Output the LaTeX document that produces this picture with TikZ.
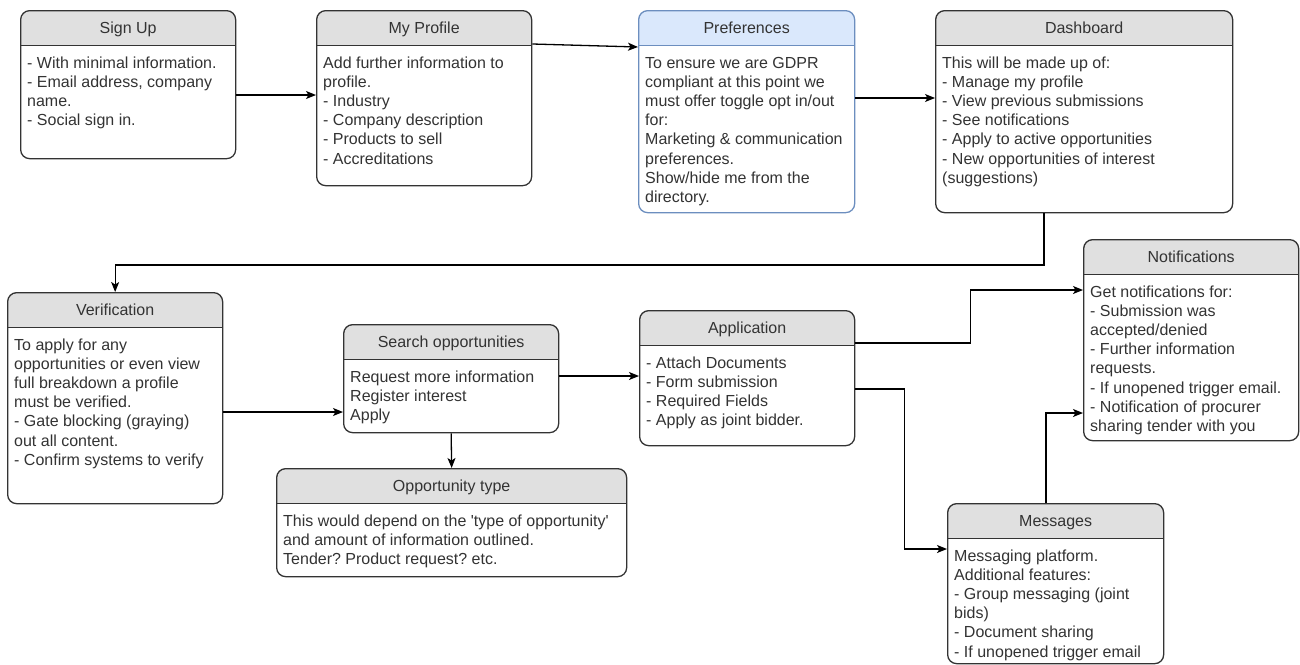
\documentclass[tikz,border=0pt]{standalone}
\usepackage{fontspec}
\setmainfont{Liberation Sans}
\usetikzlibrary{arrows.meta}
\definecolor{hdr}{HTML}{E0E0E0}
\definecolor{hdrblue}{HTML}{DAE8FC}
\definecolor{edgeblue}{HTML}{6C8EBF}
\definecolor{ink}{HTML}{333333}
\frenchspacing

\begin{document}
\begin{tikzpicture}[x=1pt, y=-1pt,
  font=\fontsize{16pt}{19.2pt}\selectfont,
  card/.style 2 args={draw=#2, fill=white, line width=1.3pt, rounded corners=9pt,
              anchor=north west, inner sep=0pt,
              path picture={\fill[#1, sharp corners] (path picture bounding box.north west)
                rectangle ([yshift=-35pt]path picture bounding box.north east);
                \draw[#2, line width=1.3pt, sharp corners]
                ([yshift=-35pt]path picture bounding box.north west)
                -- ([yshift=-35pt]path picture bounding box.north east);}},
  gcard/.style={card={hdr}{ink}},
  bcard/.style={card={hdrblue}{edgeblue}},
  wh/.style 2 args={minimum width=#1pt, minimum height=#2pt},
  head/.style={anchor=north, yshift=-9pt, text height=12pt, text depth=3.5pt,
              inner sep=2pt, text=ink},
  body/.style={anchor=north west, xshift=7pt, yshift=-44.5pt, align=left,
              inner sep=0pt, text=ink},
  a/.style={-{Stealth[length=10pt, width=8pt, inset=2.5pt]}, line width=1.3pt}]

  \useasboundingbox (0,0) rectangle (1300,664);

  \node[gcard, wh={215}{148}] (signup)  at (20,10)   {};
  \node[gcard, wh={215}{175}] (profile) at (316,10)  {};
  \node[bcard, wh={216}{202}] (prefs)   at (638,10)  {};
  \node[gcard, wh={297}{202}] (dash)    at (935,10)  {};
  \node[gcard, wh={215}{211}] (verif)   at (7,292)   {};
  \node[gcard, wh={215}{108}] (search)  at (343,324) {};
  \node[gcard, wh={350}{108}] (opptype) at (276,468) {};
  \node[gcard, wh={215}{135}] (appl)    at (639,310) {};
  \node[gcard, wh={215}{201}] (notif)   at (1083,239) {};
  \node[gcard, wh={216}{160}] (msgs)    at (947,503) {};

  \node[head] (signup-h)  at (signup.north)  {Sign Up};
  \node[head] (profile-h) at (profile.north) {My Profile};
  \node[head] (prefs-h)   at (prefs.north)   {Preferences};
  \node[head] (dash-h)    at (dash.north)    {Dashboard};
  \node[head] (verif-h)   at (verif.north)   {Verification};
  \node[head] (search-h)  at (search.north)  {Search opportunities};
  \node[head] (opptype-h) at (opptype.north) {Opportunity type};
  \node[head] (appl-h)    at (appl.north)    {Application};
  \node[head] (notif-h)   at (notif.north)   {Notifications};
  \node[head] (msgs-h)    at (msgs.north)    {Messages};

  \node[body] (signup-b) at (signup.north west)
    {\strut- With minimal information.\\- Email address, company\\name.\\- Social sign in.};
  \node[body] (profile-b) at (profile.north west)
    {\strut Add further information to\\profile.\\- Industry\\- Company description\\- Products to sell\\- Accreditations};
  \node[body] (prefs-b) at (prefs.north west)
    {\strut To ensure we are GDPR\\compliant at this point we\\must offer toggle opt in/out\\for:\\Marketing \& communication\\preferences.\\Show/hide me from the\\directory.};
  \node[body] (dash-b) at (dash.north west)
    {\strut This will be made up of:\\- Manage my profile\\- View previous submissions\\- See notifications\\- Apply to active opportunities\\- New opportunities of interest\\(suggestions)};
  \node[body] (verif-b) at (verif.north west)
    {\strut To apply for any\\opportunities or even view\\full breakdown a profile\\must be verified.\\- Gate blocking (graying)\\out all content.\\- Confirm systems to verify};
  \node[body] (search-b) at (search.north west)
    {\strut Request more information\\Register interest\\Apply};
  \node[body] (opptype-b) at (opptype.north west)
    {\strut This would depend on the \textquotesingle type of opportunity\textquotesingle\\and amount of information outlined.\\Tender? Product request? etc.};
  \node[body] (appl-b) at (appl.north west)
    {\strut- Attach Documents\\- Form submission\\- Required Fields\\- Apply as joint bidder.};
  \node[body] (notif-b) at (notif.north west)
    {\strut Get notifications for:\\- Submission was\\accepted/denied\\- Further information\\requests.\\- If unopened trigger email.\\- Notification of procurer\\sharing tender with you};
  \node[body] (msgs-b) at (msgs.north west)
    {\strut Messaging platform.\\Additional features:\\- Group messaging (joint\\bids)\\- Document sharing\\- If unopened trigger email};

  \draw[a] (signup.east |- 0,95) -- (profile.west |- 0,95);
  \draw[a] (profile.east |- 0,44) -- (prefs.west |- 0,47);
  \draw[a] (prefs.east |- 0,98) -- (dash.west |- 0,98);
  \draw[a] (dash.south -| 1044,0) |- (verif.north |- 0,265) -- (verif.north);
  \draw[a] (verif.east |- 0,412) -- (search.west |- 0,412);
  \draw[a] (search.east |- 0,376) -- (appl.west |- 0,376);
  \draw[a] (search.south) -- (opptype.north);
  \draw[a] (appl.east |- 0,343) -- ++(115,0) |- (notif.west |- 0,290);
  \draw[a] (appl.east |- 0,389) -- ++(49,0) |- (msgs.west |- 0,549);
  \draw[a] (msgs.north -| 1046,0) |- (notif.west |- 0,413);

\end{tikzpicture}
\end{document}
